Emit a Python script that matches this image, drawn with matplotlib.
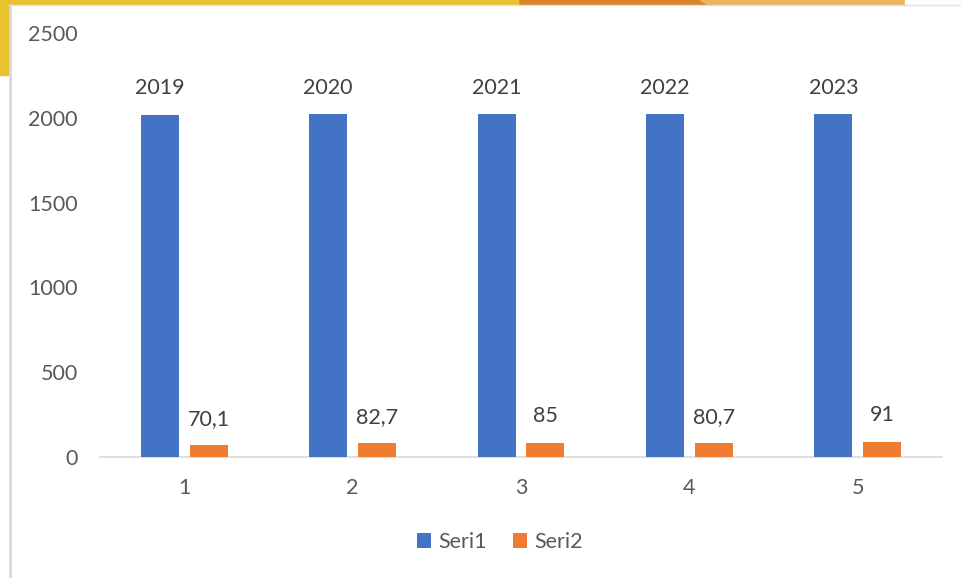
import matplotlib
matplotlib.use("Agg")
import matplotlib.pyplot as plt
from matplotlib.patches import Rectangle, Polygon
from matplotlib.lines import Line2D
import numpy as np

categories = ["1", "2", "3", "4", "5"]
seri1 = [2019, 2020, 2021, 2022, 2023]
seri2 = [70.1, 82.7, 85, 80.7, 91]
seri2_labels = ["70,1", "82,7", "85", "80,7", "91"]
yticks = [0, 500, 1000, 1500, 2000, 2500]

plt.rcParams['font.family'] = ['Lato', 'DejaVu Sans']
FS = 15.5

fig = plt.figure(figsize=(9.62, 5.78), dpi=100)
W, H = 962, 578
def fx(x): return x / W
def fy(y): return 1 - y / H

# decorative background (slide fragments)
fig.patches.append(Rectangle((0, fy(75)), 1, 75 / H, transform=fig.transFigure,
                             color="#E8C330", zorder=0))
fig.patches.append(Polygon([(fx(520), fy(0)), (fx(700), fy(0)), (fx(720), fy(12)), (fx(520), fy(12))],
                           closed=True, transform=fig.transFigure, color="#D9822B", zorder=0))
fig.patches.append(Polygon([(fx(700), fy(0)), (fx(905), fy(0)), (fx(915), fy(12)), (fx(720), fy(12))],
                           closed=True, transform=fig.transFigure, color="#EAB45E", zorder=0))
fig.patches.append(Rectangle((fx(905), fy(12)), fx(962 - 905), 12 / H, transform=fig.transFigure,
                             color="white", zorder=0))
# white chart area with gray left border
fig.patches.append(Rectangle((fx(10), 0), fx(952), fy(5), transform=fig.transFigure,
                             facecolor="white", edgecolor="none", zorder=1))
fig.lines.append(Line2D([fx(10), fx(10)], [0, fy(5)], transform=fig.transFigure,
                        color="#D9D9D9", linewidth=2, zorder=1.5))
fig.lines.append(Line2D([fx(10), 1], [fy(5), fy(5)], transform=fig.transFigure,
                        color="#E0E0E0", linewidth=1, zorder=1.5))

ax = fig.add_axes([fx(100), fy(457), fx(942 - 100), (457 - 33) / H])
ax.set_facecolor("none")
ax.set_zorder(2)

x = np.arange(1, len(categories) + 1)
bw = 0.226
off = 0.145
b1 = ax.bar(x - off, seri1, bw, color="#4472C4", label="Seri1", zorder=3)
b2 = ax.bar(x + off, seri2, bw, color="#ED7D31", label="Seri2", zorder=3)

for xi, v in zip(x, seri1):
    ax.text(xi - off, v + 95, str(v), ha="center", va="bottom", fontsize=FS, color="#404040")
for xi, v, lab in zip(x, seri2, seri2_labels):
    ax.text(xi + off, v + 95, lab, ha="center", va="bottom", fontsize=FS, color="#404040")

ax.set_xlim(0.5, 5.5)
ax.set_ylim(0, 2500)
ax.set_yticks(yticks)
ax.set_yticklabels([str(t) for t in yticks])
ax.set_xticks(x)
ax.set_xticklabels(categories)
for s in ["top", "right", "left"]:
    ax.spines[s].set_visible(False)
ax.spines["bottom"].set_color("#D9D9D9")
ax.spines["bottom"].set_linewidth(1.2)
ax.tick_params(axis="both", length=0, labelsize=FS, labelcolor="#595959")
ax.tick_params(axis="y", pad=16)
ax.tick_params(axis="x", pad=15)

leg = fig.legend(handles=[b1, b2], loc="center", bbox_to_anchor=(fx(500), fy(542)),
                 ncol=2, frameon=False, fontsize=FS, handlelength=0.65, handleheight=0.65,
                 columnspacing=1.2, handletextpad=0.35)
for t in leg.get_texts():
    t.set_color("#595959")

fig.savefig("out.png", dpi=100)
